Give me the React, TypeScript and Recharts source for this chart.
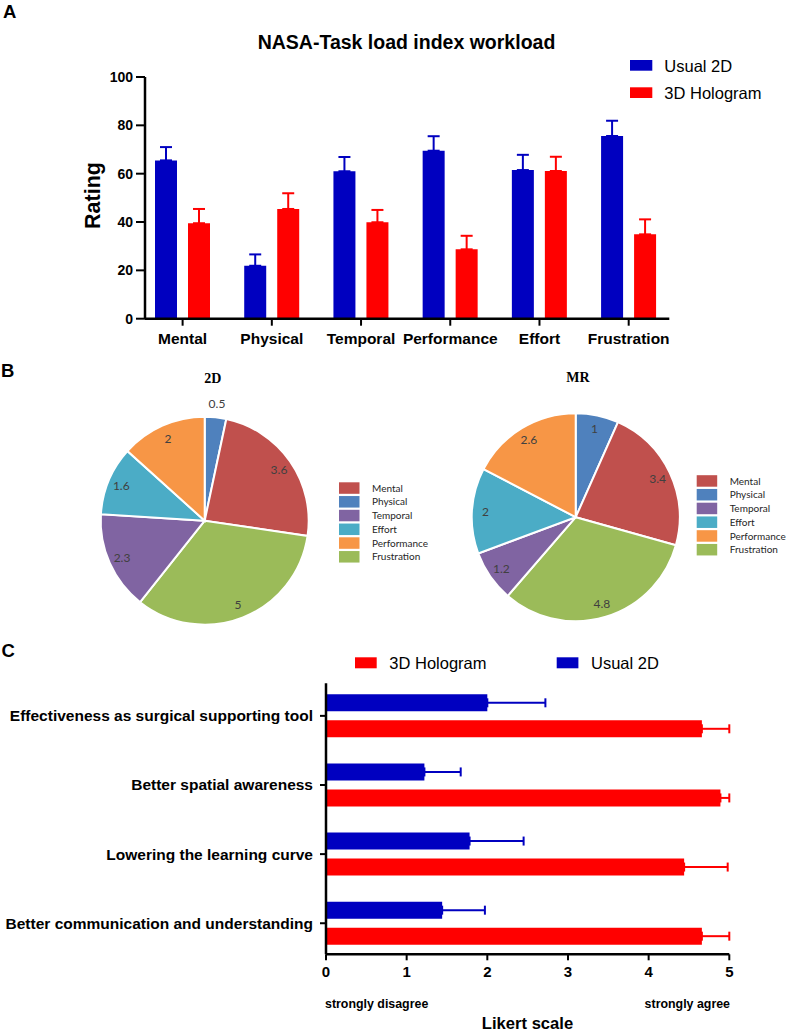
import React from 'react';
import { BarChart, Bar, XAxis, YAxis, ErrorBar, PieChart, Pie, Cell, Legend } from 'recharts';

// ---------- Panel A: NASA-TLX ----------
const nasaCategories = ['Mental', 'Physical', 'Temporal', 'Performance', 'Effort', 'Frustration'];
const nasaUsual2D = [65.5, 21.9, 61.0, 69.5, 61.5, 75.6];
const nasaUsual2DErr = [5.5, 4.7, 5.9, 6.0, 6.3, 6.3];
const nasaHologram = [39.5, 45.4, 39.9, 28.7, 61.1, 34.9];
const nasaHologramErr = [5.9, 6.5, 5.1, 5.6, 5.9, 6.2];
const nasaTicks = [0, 20, 40, 60, 80, 100];

// ---------- Panel B: pies ----------
const pieSliceOrder = ['Physical', 'Mental', 'Frustration', 'Temporal', 'Effort', 'Performance'];
const pie2DValues = [0.5, 3.6, 5, 2.3, 1.6, 2];
const pieMRValues = [1, 3.4, 4.8, 1.2, 2, 2.6];
const pieLegendOrder = ['Mental', 'Physical', 'Temporal', 'Effort', 'Performance', 'Frustration'];
const pieColors: Record<string, string> = {
  Mental: '#C0504D',
  Physical: '#4F81BD',
  Temporal: '#8064A2',
  Effort: '#4BACC6',
  Performance: '#F79646',
  Frustration: '#9BBB59',
};

// ---------- Panel C: Likert ----------
const likertItems = [
  'Effectiveness as surgical supporting tool',
  'Better spatial awareness ',
  'Lowering the learning curve',
  'Better communication and understanding',
];
const likertUsual2D = [2.0, 1.22, 1.78, 1.44];
const likertUsual2DErr = [0.72, 0.45, 0.67, 0.53];
const likertHologram = [4.66, 4.89, 4.44, 4.66];
const likertHologramErr = [0.34, 0.11, 0.54, 0.34];
const likertTicks = [0, 1, 2, 3, 4, 5];

const BLUE = '#0000C0';
const RED = '#FF0000';
const SANS = '"Liberation Sans", Arial, sans-serif';
const PIEFONT = 'Lato, "Open Sans", sans-serif';

const nasaData = nasaCategories.map((c, i) => ({
  category: c,
  usual: nasaUsual2D[i],
  usualErr: [0, nasaUsual2DErr[i]],
  holo: nasaHologram[i],
  holoErr: [0, nasaHologramErr[i]],
}));

const likertData = likertItems.map((c, i) => ({
  item: c,
  usual: likertUsual2D[i],
  usualErr: [0, likertUsual2DErr[i]],
  holo: likertHologram[i],
  holoErr: [0, likertHologramErr[i]],
}));

const pie2DData = pieSliceOrder.map((n, i) => ({ name: n, value: pie2DValues[i] }));
const pieMRData = pieSliceOrder.map((n, i) => ({ name: n, value: pieMRValues[i] }));

const RAD = Math.PI / 180;
const renderPieLabel = (p: any) => {
  const f = p.percent < 0.05 ? 1.13 : 0.87;
  const r = p.outerRadius * f;
  const x = p.cx + r * Math.cos(-p.midAngle * RAD);
  const y = p.cy + r * Math.sin(-p.midAngle * RAD);
  return (
    <text x={x} y={y} textAnchor="middle" dominantBaseline="central" fontSize={12} fill="#404040" fontFamily={PIEFONT}>
      {p.value}
    </text>
  );
};

const legendBlock = (swX: number, swY: number, key: string) => (
  <g key={key}>
    {pieLegendOrder.map((n, i) => (
      <g key={n}>
        <rect x={swX} y={swY + i * 13.75} width={20.5} height={11.5} fill={pieColors[n]} />
        <text x={swX + 33} y={swY + i * 13.75 + 9.3} fontSize={10} fill="#262626" fontFamily={PIEFONT}>
          {n}
        </text>
      </g>
    ))}
  </g>
);

const pieLegends = () => (
  <svg width={789} height={280} style={{ display: 'block' }}>
    {legendBlock(339, 122.3, '2d')}
    {legendBlock(696.7, 115.2, 'mr')}
  </svg>
);

const nasaLegend = () => (
  <svg width={789} height={120} style={{ display: 'block' }}>
    <rect x={630} y={60} width={22.3} height={10.7} fill={BLUE} />
    <text x={664.3} y={71.6} fontSize={16.5} fill="#000" fontFamily={SANS}>Usual 2D</text>
    <rect x={630} y={87.3} width={22.3} height={10.7} fill={RED} />
    <text x={664.3} y={98.9} fontSize={16.5} fill="#000" fontFamily={SANS}>3D Hologram</text>
  </svg>
);

const likertLegend = () => (
  <svg width={789} height={40} style={{ display: 'block' }}>
    <rect x={355} y={17.3} width={21.7} height={11} fill={RED} />
    <text x={389.3} y={28.8} fontSize={16.5} fill="#000" fontFamily={SANS}>3D Hologram</text>
    <rect x={556.7} y={17.3} width={21.7} height={11} fill={BLUE} />
    <text x={591} y={28.8} fontSize={16.5} fill="#000" fontFamily={SANS}>Usual 2D</text>
  </svg>
);

const axisLine = { stroke: '#000', strokeWidth: 2.5 };
const tickLine = { stroke: '#000', strokeWidth: 2 };

export default function App() {
  return (
    <div style={{ position: 'absolute', left: 0, top: 0, width: 789, height: 1033, background: '#fff', overflow: 'hidden' }}>
      {/* Panel A */}
      <div style={{ position: 'absolute', left: 0, top: 0 }}>
        <BarChart width={789} height={360} data={nasaData} barGap={11}
          margin={{ top: 77, right: 119.7, bottom: 11.3, left: 105 }}>
          <XAxis dataKey="category" height={30} padding={{ left: -7, right: -4 }}
            axisLine={axisLine} tickLine={tickLine} tickSize={7} tickMargin={7} interval={0}
            tick={{ fontSize: 15.5, fontWeight: 700, fill: '#000', fontFamily: SANS }} />
          <YAxis width={40} domain={[0, 100]} ticks={nasaTicks} allowDataOverflow
            axisLine={axisLine} tickLine={tickLine} tickSize={9} tickMargin={3}
            tick={{ fontSize: 14, fontWeight: 700, fill: '#000', fontFamily: SANS }} />
          <Legend verticalAlign="middle" align="center" layout="horizontal" content={nasaLegend}
            wrapperStyle={{ left: 0, top: 0, width: 789, height: 120 }} />
          <Bar dataKey="usual" name="Usual 2D" fill={BLUE} barSize={22} isAnimationActive={false}>
            <ErrorBar dataKey="usualErr" direction="y" width={6} strokeWidth={2} stroke={BLUE} />
          </Bar>
          <Bar dataKey="holo" name="3D Hologram" fill={RED} barSize={22} isAnimationActive={false}>
            <ErrorBar dataKey="holoErr" direction="y" width={6} strokeWidth={2} stroke={RED} />
          </Bar>
        </BarChart>
      </div>

      {/* Panel B */}
      <div style={{ position: 'absolute', left: 0, top: 360 }}>
        <PieChart width={789} height={280} margin={{ top: 0, right: 0, bottom: 0, left: 0 }}>
          <Pie data={pie2DData} dataKey="value" nameKey="name" cx={204.7} cy={160.7} outerRadius={104}
            startAngle={90} endAngle={-270} stroke="#fff" strokeWidth={2} label={renderPieLabel}
            labelLine={false} isAnimationActive={false}>
            {pie2DData.map((d) => <Cell key={d.name} fill={pieColors[d.name]} />)}
          </Pie>
          <Pie data={pieMRData} dataKey="value" nameKey="name" cx={575.7} cy={157.2} outerRadius={104}
            startAngle={90} endAngle={-270} stroke="#fff" strokeWidth={2} label={renderPieLabel}
            labelLine={false} isAnimationActive={false}>
            {pieMRData.map((d) => <Cell key={d.name} fill={pieColors[d.name]} />)}
          </Pie>
          <Legend verticalAlign="middle" align="center" layout="horizontal" content={pieLegends}
            wrapperStyle={{ left: 0, top: 0, width: 789, height: 280 }} />
        </PieChart>
      </div>

      {/* Panel C */}
      <div style={{ position: 'absolute', left: 0, top: 640 }}>
        <BarChart width={789} height={393} data={likertData} layout="vertical" barGap={9}
          margin={{ top: 43.3, right: 59.7, bottom: 48.7, left: 6 }}>
          <XAxis type="number" domain={[0, 5]} ticks={likertTicks} allowDataOverflow height={30}
            axisLine={axisLine} tickLine={tickLine} tickSize={6} tickMargin={6.5}
            tick={{ fontSize: 15, fontWeight: 700, fill: '#000', fontFamily: SANS }} />
          <YAxis type="category" dataKey="item" width={320} padding={{ top: -2, bottom: -3.5 }}
            axisLine={axisLine} tickLine={tickLine} tickSize={6} tickMargin={7} interval={0}
            tick={{ fontSize: 15.5, fontWeight: 700, fill: '#000', fontFamily: SANS }} />
          <Legend verticalAlign="middle" align="center" layout="horizontal" content={likertLegend}
            wrapperStyle={{ left: 0, top: 0, width: 789, height: 40 }} />
          <Bar dataKey="usual" name="Usual 2D" fill={BLUE} barSize={17} isAnimationActive={false}>
            <ErrorBar dataKey="usualErr" direction="x" width={4.5} strokeWidth={2} stroke={BLUE} />
          </Bar>
          <Bar dataKey="holo" name="3D Hologram" fill={RED} barSize={17} isAnimationActive={false}>
            <ErrorBar dataKey="holoErr" direction="x" width={4.5} strokeWidth={2} stroke={RED} />
          </Bar>
        </BarChart>
      </div>

      {/* Text overlay */}
      <svg width={789} height={1033} style={{ position: 'absolute', left: 0, top: 0, pointerEvents: 'none' }}>
        <g fontFamily={SANS} fontWeight={700} fill="#000">
          <text x={3} y={18} fontSize={18.5}>A</text>
          <text x={1} y={377} fontSize={18.5}>B</text>
          <text x={1.5} y={656.7} fontSize={18.5}>C</text>
          <text x={406.5} y={49} fontSize={19.5} textAnchor="middle">NASA-Task load index workload</text>
          <text x={100} y={195.5} fontSize={21.5} textAnchor="middle" transform="rotate(-90 100 195.5)">Rating</text>
          <text x={325} y={1008} fontSize={12.4}>strongly disagree</text>
          <text x={730} y={1008} fontSize={12.4} textAnchor="end">strongly agree</text>
          <text x={527.5} y={1029} fontSize={16.6} textAnchor="middle">Likert scale</text>
        </g>
        <g fontFamily={'"Liberation Serif", "Times New Roman", serif'} fontWeight={700} fill="#000" fontSize={14}>
          <text x={212.7} y={383.3} textAnchor="middle">2D</text>
          <text x={578} y={381.7} textAnchor="middle">MR</text>
        </g>
      </svg>
    </div>
  );
}
